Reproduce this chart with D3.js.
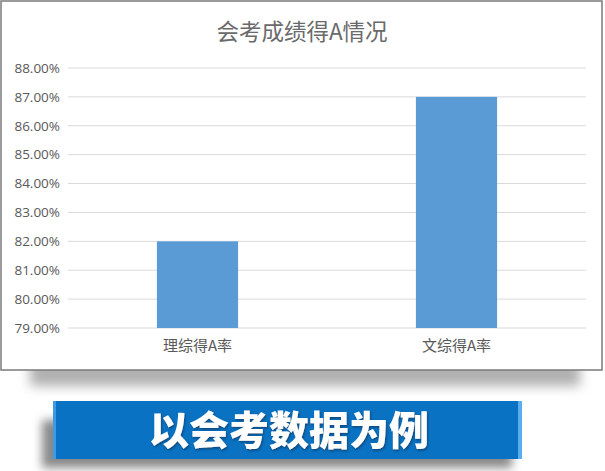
<!DOCTYPE html>
<html>
<head>
<meta charset="utf-8">
<script src="https://cdn.jsdelivr.net/npm/d3@7/dist/d3.min.js"></script>
<style>
  body { margin: 0; background: #fff; }
  svg { display: block; }
</style>
</head>
<body>
<svg id="chart" width="605" height="471"></svg>
<script>
// chart data
const categories = ["理综得A率", "文综得A率"];
const rates = [0.82, 0.87];
const yTicks = [0.79, 0.80, 0.81, 0.82, 0.83, 0.84, 0.85, 0.86, 0.87, 0.88];
const chartTitle = "会考成绩得A情况";
const bannerText = "以会考数据为例";

const svg = d3.select("#chart");
const defs = svg.append("defs");

// soft shadows for the card and banner
const cardShadow = defs.append("filter").attr("id", "cardShadow")
    .attr("x", "-10%").attr("y", "-50%").attr("width", "130%").attr("height", "200%");
cardShadow.append("feGaussianBlur").attr("stdDeviation", 6);

const bannerShadow = defs.append("filter").attr("id", "bannerShadow")
    .attr("x", "-20%").attr("y", "-40%").attr("width", "140%").attr("height", "180%");
bannerShadow.append("feGaussianBlur").attr("stdDeviation", 5);

const textShadow = defs.append("filter").attr("id", "textShadow");
textShadow.append("feDropShadow").attr("dx", 1).attr("dy", 1.5)
    .attr("stdDeviation", 0.8).attr("flood-color", "#0a3a66").attr("flood-opacity", 0.8);

// card shadow + card
svg.append("rect").attr("x", 30).attr("y", 360).attr("width", 550).attr("height", 26)
    .attr("fill", "#b0b0b0").attr("filter", "url(#cardShadow)");
svg.append("rect").attr("x", 1).attr("y", 1).attr("width", 601).attr("height", 369)
    .attr("fill", "#fff").attr("stroke", "#7a7a7a").attr("stroke-width", 1.5);

const x = d3.scaleBand().domain(categories).range([68, 586]).padding(0);
const barW = x.bandwidth() / 3.19;
const y = d3.scaleLinear().domain([0.79, 0.88]).range([328, 68]);

// gridlines
svg.append("g").selectAll("line").data(yTicks).enter().append("line")
    .attr("x1", 68).attr("x2", 586)
    .attr("y1", d => y(d)).attr("y2", d => y(d))
    .attr("stroke", "#d9d9d9").attr("stroke-width", 1);

// y axis labels
const yAxis = d3.axisLeft(y).tickValues(yTicks).tickFormat(d3.format(".2%")).tickSize(0).tickPadding(0);
const ya = svg.append("g").attr("transform", "translate(60,0)").call(yAxis);
ya.select(".domain").remove();
ya.selectAll("text").attr("fill", "#595959")
    .style("font-family", "'Open Sans', 'Noto Sans', sans-serif").style("font-size", "13.5px");

// bars
svg.append("g").selectAll("rect").data(categories).enter().append("rect")
    .attr("x", d => x(d) + (x.bandwidth() - barW) / 2)
    .attr("y", (d, i) => y(rates[i]))
    .attr("width", barW)
    .attr("height", (d, i) => y(0.79) - y(rates[i]))
    .attr("fill", "#5b9bd5");

// category labels
const xAxis = d3.axisBottom(x).tickSize(0).tickPadding(0);
const xa = svg.append("g").attr("transform", "translate(0,340)").call(xAxis);
xa.select(".domain").remove();
xa.selectAll("text").attr("fill", "#595959")
    .style("font-family", "'Noto Sans CJK SC', sans-serif").style("font-size", "15px");

// title
svg.append("text").attr("x", 302).attr("y", 40).attr("text-anchor", "middle")
    .attr("fill", "#6a6a6a")
    .style("font-family", "'Noto Sans CJK SC', sans-serif").style("font-size", "22.5px")
    .text(chartTitle);

// banner
svg.append("rect").attr("x", 42).attr("y", 420).attr("width", 470).attr("height", 48)
    .attr("fill", "#8a8a8a").attr("filter", "url(#bannerShadow)");
svg.append("rect").attr("x", 53).attr("y", 401).attr("width", 469).attr("height", 58)
    .attr("fill", "#0a72c2");
svg.append("rect").attr("x", 53).attr("y", 401).attr("width", 3).attr("height", 58)
    .attr("fill", "#3d9be6");
svg.append("rect").attr("x", 518).attr("y", 401).attr("width", 4).attr("height", 58)
    .attr("fill", "#5aaef0");
svg.append("text").attr("x", 289).attr("y", 445).attr("text-anchor", "middle")
    .attr("fill", "#fff").attr("filter", "url(#textShadow)")
    .style("font-family", "'Noto Sans CJK SC', sans-serif").style("font-weight", "900")
    .style("font-size", "40px")
    .text(bannerText);
</script>
</body>
</html>
